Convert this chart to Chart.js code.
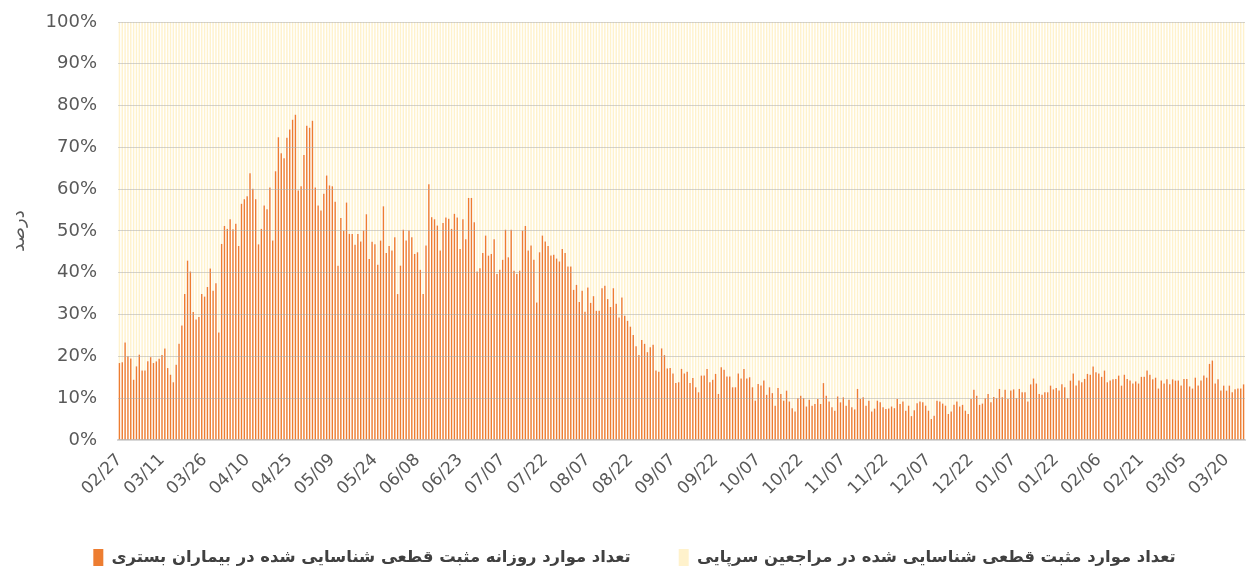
<!DOCTYPE html>
<html lang="fa">
<head>
<meta charset="utf-8">
<script src="https://cdn.jsdelivr.net/npm/chart.js@4.4.1/dist/chart.umd.min.js"></script>
<style>
  html, body { margin: 0; background: #fff; }
  #wrap { width: 1246px; height: 576px; }
</style>
</head>
<body>
<div id="wrap"><canvas id="myChart" width="1246" height="576"></canvas></div>
<script>
// one label every 15 days
const tickLabels = ['02/27', '03/11', '03/26', '04/10', '04/25', '05/09', '05/24', '06/08', '06/23',
    '07/07', '07/22', '08/07', '08/22', '09/07', '09/22', '10/07', '10/22', '11/07', '11/22',
    '12/07', '12/22', '01/07', '01/22', '02/06', '02/21', '03/05', '03/20'];

// daily share (%) of positive cases found among hospitalised patients
const hospitalShare = [
    18.4, 18.6, 23.3, 20, 19.5, 14.4, 17.6, 20.4, 16.6, 16.6, 18.8, 19.8, 18.4, 18.8, 19.4, 20.3, 21.9,
    17.2, 15.6, 13.8, 18, 23, 27.4, 34.9, 42.9, 40.3, 30.6, 28.8, 29.4, 34.9, 34.3, 36.6, 41, 35.7,
    37.5, 25.7, 46.9, 51.2, 50.5, 52.8, 50.4, 51.7, 46.4, 56.5, 57.6, 58.3, 63.8, 60.1, 57.6, 46.8, 50.5,
    56.1, 55.2, 60.4, 47.7, 64.3, 72.4, 68.6, 67.4, 72.3, 74.3, 76.6, 77.8, 59.7, 60.7, 68.2, 75.2, 74.7,
    76.4, 60.4, 56.1, 54.9, 58.9, 63.3, 60.9, 60.7, 57, 41.7, 53.1, 50.1, 56.8, 49.3, 49.3, 46.7, 49.3,
    47.5, 50.1, 54, 43.3, 47.4, 46.8, 41.9, 47.7, 55.9, 44.7, 46.4, 45.3, 48.5, 34.9, 41.7, 50.3,
    47.7, 50.1, 48.5, 44.5, 44.9, 40.7, 34.9, 46.5, 61.2, 53.3, 52.8, 51.3, 45.3, 51.9, 53.2, 52.9, 50.5,
    54.1, 53.2, 45.7, 52.8, 48, 57.9, 57.9, 52.1, 40.3, 41.1, 44.7, 48.9, 44.1, 44.5, 48, 39.7, 40.7,
    43.1, 50.3, 43.7, 50.3, 40.5, 39.7, 40.5, 50.1, 51.2, 45.3, 46.5, 43.1, 32.9, 44.9, 48.9, 47.5, 46.4,
    44.1, 44.3, 43.4, 42.7, 45.7, 44.7, 41.5, 41.5, 35.9, 37.1, 33, 35.7, 30.7, 36.5, 32.8, 34.4, 30.9,
    30.9, 36.3, 36.9, 33.7, 31.8, 36.3, 32.6, 29.3, 34.1, 29.7, 28.5, 27.1, 25.1, 22.4, 20.3, 23.9, 23,
    21, 22.2, 22.8, 16.6, 16.3, 21.9, 20.3, 17.1, 17.2, 15.9, 13.6, 13.8, 17, 15.9, 16.3, 13.6,
    14.8, 12.6, 11.4, 15.4, 15.4, 17, 13.8, 14.4, 15.8, 11, 17.4, 16.8, 15.2, 15.2, 12.6, 12.6, 15.9,
    14.7, 17, 14.7, 15, 12.6, 9.4, 13.4, 13, 14.2, 10.8, 12.6, 11.2, 8.2, 12.4, 11, 9.4, 11.8, 9.2, 7.6,
    6.8, 10, 10.6, 10, 8, 9.6, 8.2, 8.6, 9.8, 8.6, 13.6,
    10.6, 9.2, 7.8, 7, 10.4, 9, 10.2, 8.2, 9.6, 7.8, 7.3, 12.2, 9.8, 10.2, 8.2, 9.4, 6.8, 7.5, 9.4, 9,
    7.8, 7.4, 7.5, 8, 7.6, 9.8, 8.6, 9.2, 7, 8.2, 5.7, 7.1, 8.8, 9.2, 9, 8.2, 7, 5, 5.8, 9.4, 9.2, 8.7,
    8.2, 6.2, 6.8, 8.4, 9.2,
    8, 8.4, 7, 6.2, 9.8, 12, 10.6, 8.4, 8.7, 10, 11, 9, 10.3, 10, 12.2, 10.2, 12, 9.8, 11.8, 12.1, 10,
    12.2, 11.4, 11.4, 9.2, 13.3, 14.7, 13.5, 11, 10.8, 11.4, 11.4, 13, 12.1, 12.4, 11.8, 13.3, 12.6, 10,
    14.2, 15.9, 13, 14.2, 13.8, 14.6, 15.8, 15.6, 17.6,
    16.2, 15.9, 15.1, 16.6, 13.8, 14.2, 14.5, 14.6, 15.4, 13, 15.6, 14.6, 14.2, 13.5, 14, 13.5, 15.1,
    15.1, 16.6, 15.6, 14.5, 14.9, 12.3, 14.2, 13.5, 14.5, 13.3, 14.5, 14.2, 14.2, 13, 14.6, 14.6, 12.8,
    12.3, 14.9, 13, 14.2, 15.4, 14.9, 18.2, 19, 13.5, 14.5, 11.8, 13, 11.8, 13, 11.4, 12.1, 12.3, 12.3,
    13.3
];

// 100% stacked: the outpatient part fills the rest of each column
const outpatientShare = hospitalShare.map(v => +(100 - v).toFixed(1));

const categories = hospitalShare.map((v, i) => i % 15 === 0 ? tickLabels[i / 15] : '');

const seriesNames = [
    'تعداد موارد روزانه مثبت قطعی شناسایی شده در بیماران بستری',
    'تعداد موارد مثبت قطعی شناسایی شده در مراجعین سرپایی'
];

// the legend row sits a little right of centre in the original
const legendShift = {
    id: 'legendShift',
    afterLayout: chart => {
        chart.legend.left += 12;
        chart.legend.right += 12;
    }
};

const ctx = document.getElementById('myChart').getContext('2d');

new Chart(ctx, {
    type: 'bar',
    data: {
        labels: categories,
        datasets: [
            {
                label: seriesNames[0],
                data: hospitalShare,
                backgroundColor: '#ED7D31',
                barPercentage: 0.5,
                categoryPercentage: 1
            },
            {
                label: seriesNames[1],
                data: outpatientShare,
                backgroundColor: '#FFF2CC',
                barPercentage: 0.5,
                categoryPercentage: 1
            }
        ]
    },
    plugins: [legendShift],
    options: {
        responsive: false,
        animation: false,
        devicePixelRatio: 1,
        layout: {padding: {top: 0, right: 1, left: 0, bottom: 0}},
        scales: {
            x: {
                stacked: true,
                grid: {display: false},
                border: {color: '#D9D9D9', width: 2},
                ticks: {
                    autoSkip: false,
                    minRotation: 45,
                    maxRotation: 45,
                    padding: 2,
                    color: '#595959',
                    font: {family: 'DejaVu Sans', size: 17}
                },
                afterFit: scale => {
                    scale.paddingLeft = 0;
                    scale.paddingRight = 0;
                }
            },
            y: {
                stacked: true,
                min: 0,
                max: 100,
                border: {display: false},
                grid: {color: 'rgba(170,170,170,0.5)', drawTicks: false, z: 1},
                ticks: {
                    stepSize: 10,
                    padding: 21,
                    color: '#595959',
                    font: {family: 'DejaVu Sans', size: 18},
                    callback: value => value + '%'
                },
                title: {
                    display: true,
                    text: 'درصد',
                    color: '#595959',
                    font: {family: 'DejaVu Sans', size: 18},
                    padding: {top: 9, bottom: 0}
                },
                afterFit: scale => {
                    scale.width = 118;
                    scale.paddingTop = 22;
                    scale.paddingBottom = 0;
                }
            }
        },
        plugins: {
            tooltip: {enabled: false},
            legend: {
                position: 'bottom',
                textDirection: 'rtl',
                labels: {
                    boxWidth: 10,
                    boxHeight: 17,
                    padding: 48,
                    color: '#404040',
                    font: {family: 'DejaVu Sans', size: 16.4, weight: 'bold'}
                }
            }
        }
    }
});
</script>
</body>
</html>
